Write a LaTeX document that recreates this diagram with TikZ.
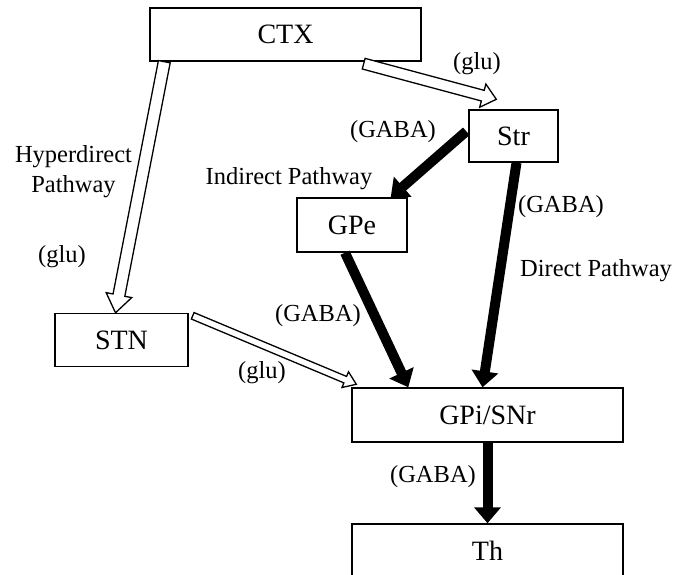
\documentclass[tikz,border=0pt]{standalone}
\usepackage{fontspec}
\setmainfont{Liberation Serif}
\usetikzlibrary{calc,arrows.meta}
\tikzset{
  box/.style={draw, line width=1.4pt, inner sep=0pt, font=\fontsize{28}{31}\selectfont},
  lbl/.style={inner sep=0pt, font=\fontsize{24.5}{30}\selectfont},
  inhib/.style={line width=10pt, -{Triangle[length=16pt,width=26pt]}},
  hollow/.style={draw, line width=1.3pt, fill=white, line join=miter}
}
% #1 start, #2 tip, #3 shaft half width, #4 head half width, #5 head length
\newcommand{\hollowarrow}[5]{%
  \coordinate (ha-h) at ($(#2)!#5!(#1)$);
  \filldraw[hollow] ($(#1)!#3!90:(#2)$) -- ($(ha-h)!#3!90:(#2)$) -- ($(ha-h)!#4!90:(#2)$)
     -- (#2) -- ($(ha-h)!#4!-90:(#2)$) -- ($(ha-h)!#3!-90:(#2)$) -- ($(#1)!#3!-90:(#2)$) -- cycle;
}
\begin{document}
\begin{tikzpicture}[x=1pt,y=-1pt]
\useasboundingbox (0,0) rectangle (680,575);
\clip (0,0) rectangle (680,575);
% nodes
\node[box, minimum width=271pt, minimum height=53pt] (ctx) at (285.5,34.5) {CTX};
\node[box, minimum width=89pt, minimum height=52pt] (str) at (513.5,136) {Str};
\node[box, minimum width=110pt, minimum height=54pt] (gpe) at (352,225) {GPe};
\node[box, minimum width=133pt, minimum height=53pt] (stn) at (121.5,340) {STN};
\node[box, minimum width=271pt, minimum height=54pt] (gpi) at (487.5,415) {GPi/SNr};
\node[box, minimum width=271pt, minimum height=76pt] (th) at (487.5,562) {};
\node[box, draw=none] (thl) at (487.5,551) {Th};
% connector endpoints
\coordinate (a1) at ($(ctx.south west)+(15,0)$);
\coordinate (b1) at ($(stn.north)+(-6,0)$);
\coordinate (a2) at ($(ctx.south east)+(-58,2)$);
\coordinate (b2) at ($(str.north west)+(28,-10)$);
\coordinate (a3) at ($(stn.north east)+(4,3)$);
\coordinate (b3) at ($(gpi.north west)+(5,-3)$);
% hollow (excitatory) arrows
\hollowarrow{a1}{b1}{6pt}{13pt}{18pt}
\hollowarrow{a2}{b2}{5.5pt}{12pt}{14pt}
\hollowarrow{a3}{b3}{3.5pt}{8.5pt}{12pt}
% black (inhibitory) arrows
\draw[inhib] ($(str.north west)+(-2,22)$) -- ($(gpe.north east)+(-17,0)$);
\draw[inhib] ($(str.south)+(3,0)$) -- ($(gpi.north)+(-5,0)$);
\draw[inhib] ($(gpe.south)+(-7,0)$) -- ($(gpi.north west)+(57,0)$);
\draw[inhib] (gpi.south) -- (th.north);
% labels
\node[lbl] (l1) at (477,64) {(glu)};
\node[lbl] (l2) at (393,132) {(GABA)};
\node[lbl] (l3) at (289,179) {Indirect Pathway};
\node[lbl, align=center, anchor=north] (l4) at (73.5,145) {Hyperdirect\\Pathway};
\node[lbl] (l5) at (62,257) {(glu)};
\node[lbl] (l6) at (561,207) {(GABA)};
\node[lbl] (l7) at (596,271) {Direct Pathway};
\node[lbl] (l8) at (318,316) {(GABA)};
\node[lbl] (l9) at (262,373) {(glu)};
\node[lbl] (l10) at (433,477) {(GABA)};
\end{tikzpicture}
\end{document}
